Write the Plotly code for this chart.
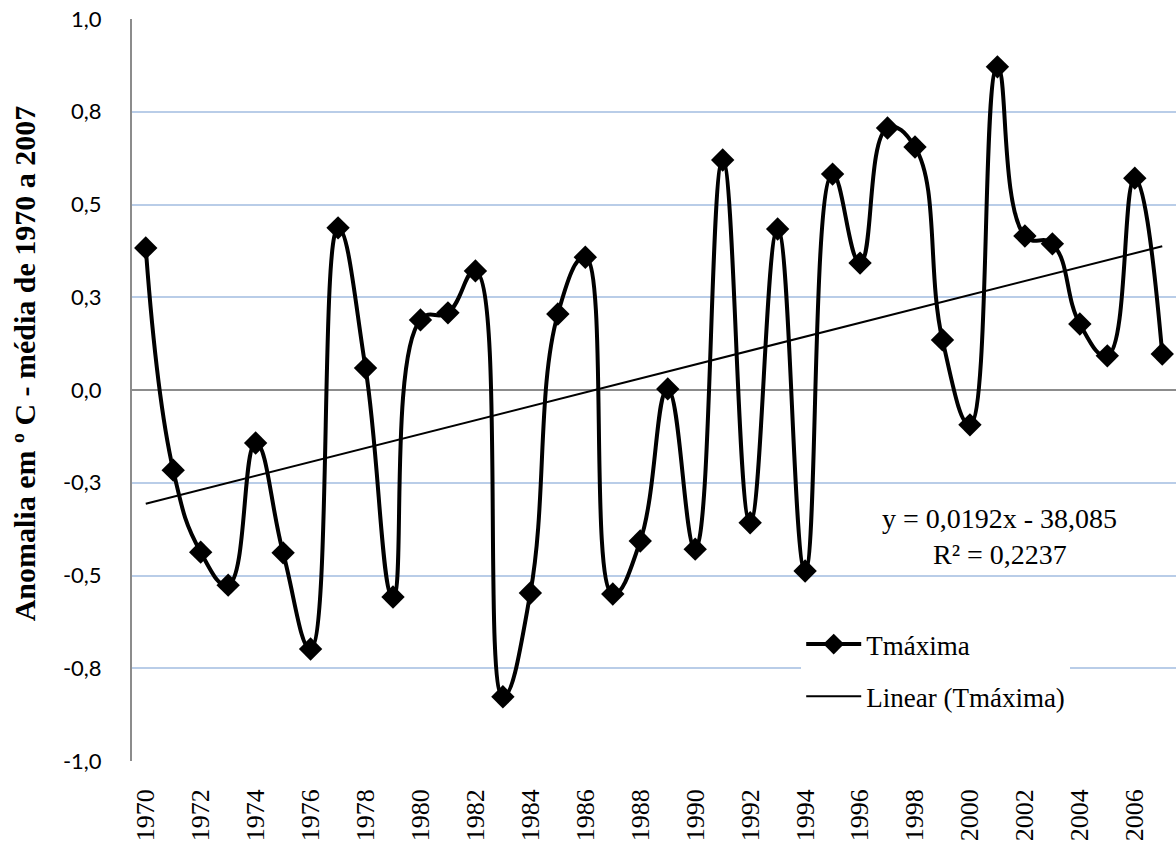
import numpy as np
import plotly.graph_objects as go

years = list(range(1970, 2008))
tmax = [0.383, -0.216, -0.437, -0.526, -0.143, -0.439, -0.698, 0.437, 0.059, -0.558,
        0.189, 0.208, 0.321, -0.827, -0.547, 0.205, 0.358, -0.550, -0.407, 0.003,
        -0.429, 0.620, -0.358, 0.434, -0.488, 0.582, 0.342, 0.706, 0.655, 0.135,
        -0.094, 0.871, 0.415, 0.394, 0.178, 0.092, 0.571, 0.097]
ytick_vals = [-1.0, -0.75, -0.5, -0.25, 0.0, 0.25, 0.5, 0.75, 1.0]
ytick_text = ["-1,0", "-0,8", "-0,5", "-0,3", "0,0", "0,3", "0,5", "0,8", "1,0"]
xtick_vals = years[::2]
xtick_text = [str(y) for y in xtick_vals]
eq_text = "y = 0,0192x - 38,085"
r2_text = "R² = 0,2237"
y_title = "<b>Anomalia em º C - média de 1970 a 2007</b>"

slope, intercept = np.polyfit(years, tmax, 1)
trend = [slope * y + intercept for y in years]

serif = "Liberation Serif"

fig = go.Figure()
fig.add_trace(go.Scatter(
    x=years, y=tmax, name="Tmáxima", mode="lines+markers",
    line=dict(color="black", width=4, shape="spline", smoothing=1.3),
    marker=dict(symbol="diamond", size=18, color="black"),
    legendgroup="a",
))
fig.add_trace(go.Scatter(
    x=[years[0], years[-1]], y=[trend[0], trend[-1]], name="Linear (Tmáxima)",
    mode="lines", line=dict(color="black", width=2),
    legendgroup="b",
))

fig.add_annotation(x=0.831, y=-0.347, xref="paper", yref="y", text=eq_text,
                   xanchor="center", yanchor="middle",
                   showarrow=False, font=dict(family=serif, size=28, color="black"))
fig.add_annotation(x=0.831, y=-0.443, xref="paper", yref="y", text=r2_text,
                   xanchor="center", yanchor="middle",
                   showarrow=False, font=dict(family=serif, size=28, color="black"))
fig.add_annotation(x=-0.1034, y=0.536, xref="paper", yref="paper", text=y_title,
                   textangle=-90, xanchor="center", yanchor="middle",
                   showarrow=False, font=dict(family=serif, size=30, color="black"))

fig.update_layout(
    width=1176, height=854,
    margin=dict(l=132, r=0, t=19, b=93),
    plot_bgcolor="white", paper_bgcolor="white",
    showlegend=True,
    legend=dict(x=0.641, y=0.19, xanchor="left", yanchor="top",
                bgcolor="white", font=dict(family=serif, size=27, color="black"),
                itemwidth=55, tracegroupgap=14, entrywidth=300),
    xaxis=dict(range=[1969.5, 2007.5], tickmode="array", tickvals=xtick_vals,
               ticktext=xtick_text, tickangle=-90, showgrid=False, zeroline=False,
               showline=False, ticks="", ticklabelstandoff=22,
               tickfont=dict(family=serif, size=26, color="black")),
    yaxis=dict(range=[-1.0, 1.0], tickmode="array", tickvals=ytick_vals,
               ticktext=ytick_text, showgrid=True, gridcolor="#b9cde8", gridwidth=2,
               zeroline=True, zerolinecolor="#8c8c8c", zerolinewidth=2,
               showline=True, linecolor="#8c8c8c", linewidth=2, ticks="",
               ticklabelstandoff=24,
               tickfont=dict(family="Lato", size=22, color="black")),
)

fig.write_html("out.html", config={"displayModeBar": False},
               post_script="document.body.style.margin='0';")
